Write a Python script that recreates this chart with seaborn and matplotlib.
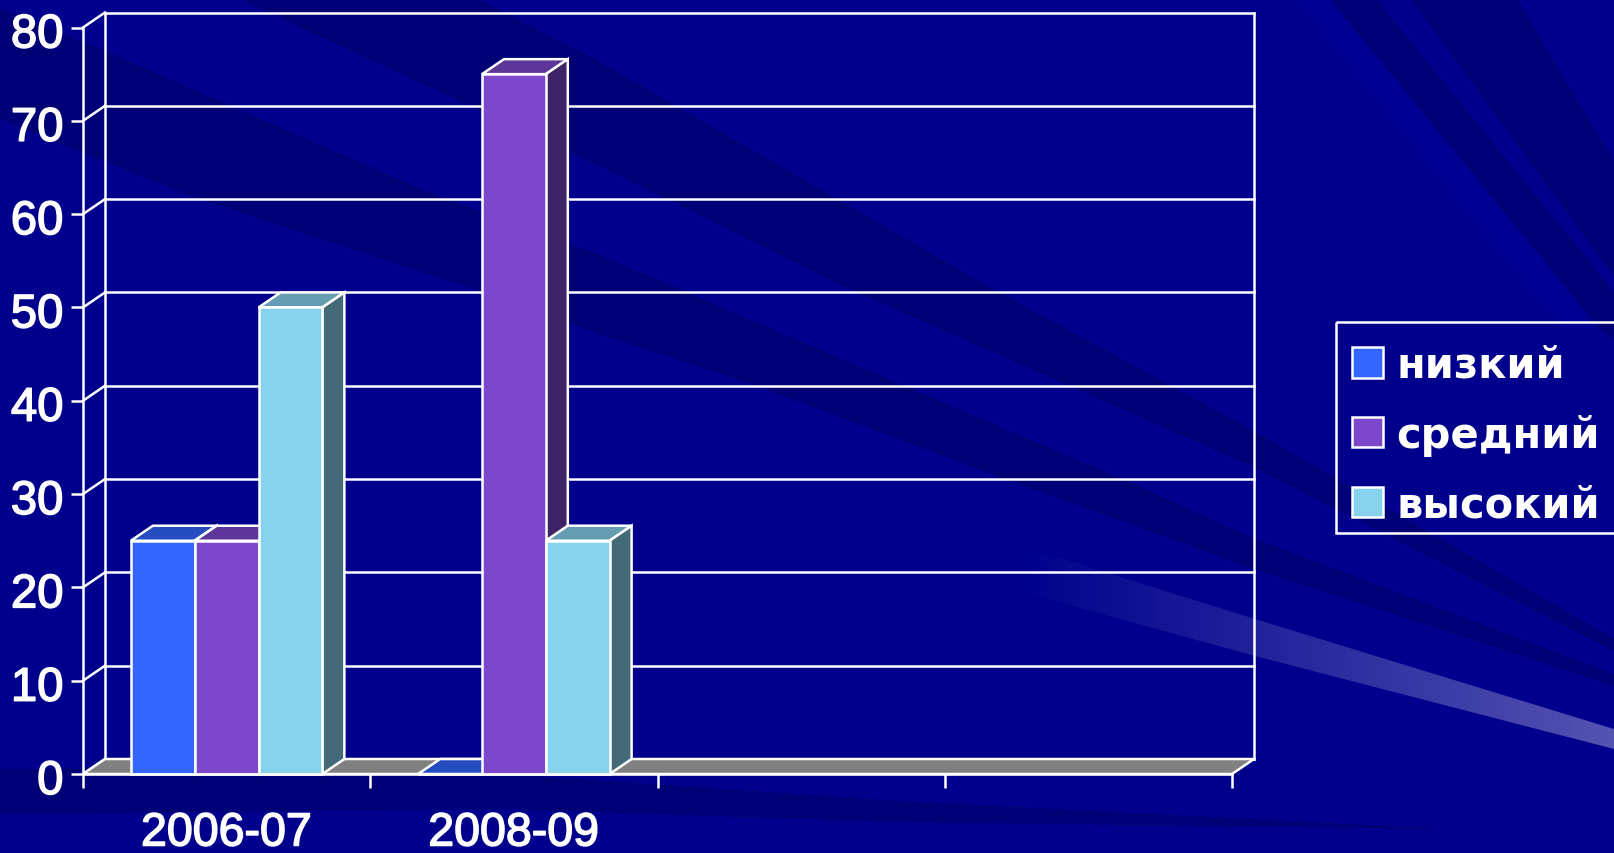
import numpy as np
import pandas as pd
import matplotlib
matplotlib.use("Agg")
import matplotlib.pyplot as plt
import matplotlib.patheffects as pe
import matplotlib.transforms as mtrans
from matplotlib.patches import Polygon, Rectangle
from matplotlib.colors import to_rgb
import seaborn as sns

# ---- data ----
categories = ["2006-07", "2008-09", " ", "  "]
levels = ["низкий", "средний", "высокий"]
period = ["2006-07", "2006-07", "2006-07", "2008-09", "2008-09", "2008-09"]
level = ["низкий", "средний", "высокий", "низкий", "средний", "высокий"]
values = [25, 25, 50, 0, 75, 25]
yticks = [0, 10, 20, 30, 40, 50, 60, 70, 80]
colors = ["#3366FF", "#7B48CC", "#87D2ED"]

W, H = 1614, 854
BASE = "#00008C"
DARK = "#000076"
LIGHT = "#000092"

sns.set_theme(style="white")
plt.rcParams["font.family"] = ["Liberation Sans", "DejaVu Sans"]

fig = plt.figure(figsize=(W / 100, H / 100), dpi=100, facecolor=BASE)

# ---- slide background, in pixel coordinates ----
bg = fig.add_axes([0, 0, 1, 1], zorder=0)
bg.set_xlim(0, W)
bg.set_ylim(H, 0)
bg.axis("off")
bands = [
    ([(478, 0), (600, 63), (991, 289), (1254, 432), (1614, 640)],
     [(240, 0), (600, 167), (852, 291), (1252, 467), (1614, 652)]),
    ([(0, 10), (103, 51), (432, 195), (600, 256), (895, 383), (1118, 478), (1255, 540), (1614, 675)],
     [(0, 120), (191, 197), (474, 290), (600, 335), (752, 385), (1000, 478), (1255, 570), (1614, 687)]),
    ([(1317, 0), (1587, 320), (1614, 340)], [(1376, 0), (1614, 293)]),
    ([(1411, 0), (1614, 277)], [(1517, 0), (1614, 163)]),
    ([(0, 770), (400, 768), (900, 802), (1446, 830)], [(0, 815), (500, 810), (900, 823), (1446, 830)]),
]
for top, bottom in bands:
    bg.add_patch(Polygon(top + bottom[::-1], closed=True, fc=DARK, ec="none"))
bg.add_patch(Polygon([(1294, 0), (1330, 0), (1600, 330), (1560, 330)], closed=True, fc=LIGHT, ec="none"))

beam = Polygon([(945, 572), (1037, 552), (1255, 620), (1614, 730), (1614, 750), (1255, 657)],
               closed=True, fc="none", ec="none")
bg.add_patch(beam)
alpha = np.clip((np.linspace(0, W, 400) - 1010) / (W - 1010), 0, 1) * 0.33
grad = np.ones((2, 400, 4))
grad[..., 3] = alpha
im = bg.imshow(grad, extent=(0, W, H, 0), aspect="auto", zorder=1)
im.set_clip_path(beam)
bg.set_xlim(0, W)
bg.set_ylim(H, 0)
# legend box runs past the right edge of the slide
bg.add_patch(Rectangle((1336, 323), 320, 211, fc="none", ec="white", lw=1.8, zorder=3))

# ---- chart ----
LEFT, RIGHT, TOP, BOTTOM = 83, 1232, 28.5, 775
DX, DY = 22, 15
LW = 1.8
ax = fig.add_axes([LEFT / W, 1 - BOTTOM / H, (RIGHT - LEFT) / W, (BOTTOM - TOP) / H], zorder=2)
ax.patch.set_alpha(0)

df = pd.DataFrame({"period": period, "level": level, "value": values})
sns.barplot(data=df, x="period", y="value", hue="level", order=categories, hue_order=levels,
            palette=colors, saturation=1, width=2 / 3, gap=0, edgecolor="white", linewidth=LW, ax=ax)

ax.set_xlim(-0.5, len(categories) - 0.5)
ax.set_ylim(0, max(yticks))
ax.set_xlabel("")
ax.set_ylabel("")

ddx = DX * len(categories) / (RIGHT - LEFT)
ddy = DY * max(yticks) / (BOTTOM - TOP)
x0, x1 = ax.get_xlim()
line = dict(color="white", lw=LW, clip_on=False, solid_capstyle="projecting")

# back wall, gridlines, floor
for v in yticks:
    ax.plot([x0 + ddx, x1 + ddx], [v + ddy, v + ddy], zorder=1, **line)
    ax.plot([x0, x0 + ddx], [v, v + ddy], zorder=1, **line)
ax.plot([x0 + ddx, x0 + ddx], [ddy, max(yticks) + ddy], zorder=1, **line)
ax.plot([x1 + ddx, x1 + ddx], [ddy, max(yticks) + ddy], zorder=1, **line)
ax.add_patch(Polygon([(x0, 0), (x1, 0), (x1 + ddx, ddy), (x0 + ddx, ddy)], closed=True,
                     fc="#808080", ec="white", lw=LW, clip_on=False, zorder=1.5))


def shade(c, k):
    return tuple(k * np.array(to_rgb(c)))


# 3-D faces of each bar, from the bars seaborn has drawn
bars = []
for container, c in zip(ax.containers, colors):
    bars += [(p, c) for p in container.patches if np.isfinite(p.get_height())]
bars.sort(key=lambda t: t[0].get_x())
z = 2.0
for p, c in bars:
    a, b, h = p.get_x(), p.get_x() + p.get_width(), p.get_height()
    ax.add_patch(Polygon([(a, h), (b, h), (b + ddx, h + ddy), (a + ddx, h + ddy)], closed=True,
                         fc=shade(c, 0.75), ec="white", lw=LW, clip_on=False, zorder=z))
    ax.add_patch(Polygon([(b, 0), (b, h), (b + ddx, h + ddy), (b + ddx, ddy)], closed=True,
                         fc=shade(c, 0.5), ec="white", lw=LW, clip_on=False, zorder=z + 0.01))
    p.set_zorder(z + 0.02)
    p.set_clip_on(False)
    z += 0.1

# axes
sns.despine(ax=ax)
for s in ("left", "bottom"):
    ax.spines[s].set_color("white")
    ax.spines[s].set_linewidth(LW)
    ax.spines[s].set_zorder(4)
ax.set_yticks(yticks)
ax.set_yticklabels([str(v) for v in yticks])
ax.tick_params(axis="y", colors="white", labelsize=34, length=9, width=LW, pad=5, left=True)
ax.set_xticks(np.arange(len(categories) + 1) - 0.5)
ax.set_xticklabels([])
ax.set_xticks(np.arange(len(categories)), labels=categories, minor=True)
ax.tick_params(axis="x", which="major", colors="white", length=10, width=LW, bottom=True)
ax.tick_params(axis="x", which="minor", colors="white", labelsize=33.5, length=0, pad=27, bottom=False)

bold = [pe.withStroke(linewidth=1.1, foreground="white")]
down = mtrans.ScaledTranslation(0, -3 / 100, fig.dpi_scale_trans)
for t in ax.get_yticklabels():
    t.set_path_effects(bold)
    t.set_transform(t.get_transform() + down)
for t in ax.get_xticklabels(minor=True):
    t.set_path_effects(bold)

# legend
handles, labels = ax.get_legend_handles_labels()
leg = ax.legend(handles, labels, loc="upper left", bbox_to_anchor=(1352 / W, 1 - 345 / H),
                bbox_transform=fig.transFigure, borderaxespad=0, frameon=False,
                prop={"family": "DejaVu Sans", "weight": "bold", "size": 30},
                handlelength=0.747, handleheight=0.747, handletextpad=0.32, labelspacing=0.665, borderpad=0)
for t in leg.get_texts():
    t.set_color("white")
leg.set_zorder(6)

fig.savefig("out.png", dpi=100, facecolor=BASE)
